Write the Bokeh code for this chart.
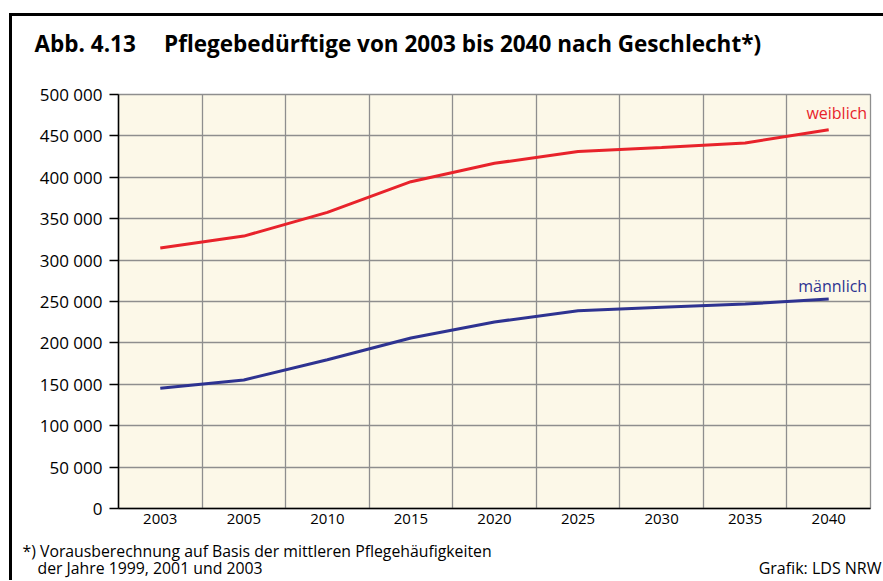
from bokeh.plotting import figure
from bokeh.models import FixedTicker, Label, Range1d, InlineStyleSheet
from bokeh.embed import file_html
from bokeh.resources import INLINE

years = ["2003", "2005", "2010", "2015", "2020", "2025", "2030", "2035", "2040"]
weiblich = [314700, 329000, 357700, 394700, 416900, 431200, 436000, 441500, 457500]
maennlich = [145200, 155200, 179600, 206000, 225300, 238800, 243000, 246900, 253000]
y_ticks = [0, 50000, 100000, 150000, 200000, 250000, 300000, 350000, 400000, 450000, 500000]
y_tick_labels = ["0", "50 000", "100 000", "150 000", "200 000", "250 000",
                 "300 000", "350 000", "400 000", "450 000", "500 000"]

title_text = "Abb. 4.13\u2003 Pflegebedürftige von 2003 bis 2040 nach Geschlecht*)"
note1 = "*) Vorausberechnung auf Basis der mittleren Pflegehäufigkeiten"
note2 = "der Jahre 1999, 2001 und 2003"
source = "Grafik: LDS NRW"

RED = "#E8232B"
BLUE = "#2E3391"
GRID = "#8E8E8E"
FONT = "Open Sans"

x = [i + 0.5 for i in range(len(years))]

p = figure(width=883, height=580, output_backend="svg", toolbar_location=None,
           x_range=Range1d(0, len(years)), y_range=Range1d(0, 500000),
           min_border_left=118, min_border_right=13, min_border_top=94,
           min_border_bottom=72)
p.title.text = ""

p.stylesheets = [InlineStyleSheet(css=":host::after { content: ''; position: absolute; "
                                  "left: 9px; top: 13px; right: 0; bottom: 0; "
                                  "border-left: 3px solid black; border-top: 3px solid black; "
                                  "pointer-events: none; }")]

p.background_fill_color = "#FCF8E8"
p.border_fill_color = "white"
p.outline_line_color = GRID
p.outline_line_width = 1.3

p.xgrid.ticker = FixedTicker(ticks=list(range(1, len(years))))
p.ygrid.ticker = FixedTicker(ticks=y_ticks)
for g in (p.xgrid, p.ygrid):
    g.grid_line_color = GRID
    g.grid_line_width = 1.3

p.xaxis.ticker = FixedTicker(ticks=x)
p.xaxis.major_label_overrides = {xi: yr for xi, yr in zip(x, years)}
p.xaxis.major_tick_out = 0
p.xaxis.major_tick_in = 0
p.xaxis.minor_tick_out = 0
p.xaxis.minor_tick_in = 0
p.xaxis.major_label_standoff = 5
p.xaxis.major_label_text_font_size = "15px"

p.yaxis.ticker = FixedTicker(ticks=y_ticks)
p.yaxis.major_label_overrides = {t: l for t, l in zip(y_ticks, y_tick_labels)}
p.yaxis.major_tick_out = 9
p.yaxis.major_tick_in = 0
p.yaxis.minor_tick_out = 0
p.yaxis.minor_tick_in = 0
p.yaxis.major_label_standoff = 7
p.yaxis.major_label_text_font_size = "17px"

for ax in (p.xaxis, p.yaxis):
    ax.axis_line_color = "black"
    ax.axis_line_width = 1.5
    ax.major_tick_line_color = "black"
    ax.major_tick_line_width = 1.5
    ax.major_label_text_font = FONT
    ax.major_label_text_color = "black"

p.line(x, weiblich, line_color=RED, line_width=3)
p.line(x, maennlich, line_color=BLUE, line_width=3)

p.add_layout(Label(x=len(years) - 0.04, y=weiblich[-1] + 20000, text="weiblich",
                   text_align="right", text_baseline="middle", text_color=RED,
                   text_font=FONT, text_font_size="16px"))
p.add_layout(Label(x=len(years) - 0.04, y=maennlich[-1] + 15500, text="männlich",
                   text_align="right", text_baseline="middle", text_color=BLUE,
                   text_font=FONT, text_font_size="16px"))

# texts outside the plot area, placed in the side panels (screen units relative to panel)
p.add_layout(Label(x=-84, y=51, x_units="screen", y_units="screen", text=title_text,
                   text_align="left", text_baseline="middle", text_color="black",
                   text_font=FONT, text_font_style="bold", text_font_size="22.5px"), "above")
p.add_layout(Label(x=-96, y=-487.6, x_units="screen", y_units="screen", text=note1,
                   text_align="left", text_baseline="middle", text_color="black",
                   text_font=FONT, text_font_size="15.8px"), "above")
p.add_layout(Label(x=-81, y=-526.1, x_units="screen", y_units="screen", text=note2,
                   text_align="left", text_baseline="middle", text_color="black",
                   text_font=FONT, text_font_size="15.8px"), "above")
p.add_layout(Label(x=763, y=-19.5, x_units="screen", y_units="screen", text=source,
                   text_align="right", text_baseline="middle", text_color="black",
                   text_font=FONT, text_font_size="16px"), "below")

open("out.html", "w").write(file_html(p, INLINE))
